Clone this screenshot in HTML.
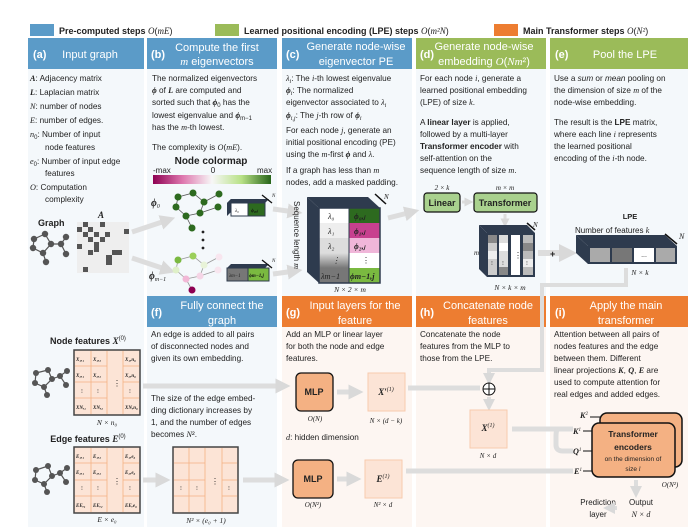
<!DOCTYPE html>
<html><head><meta charset="utf-8"><style>
html,body{margin:0;padding:0;background:#fff;}
svg{display:block;}
text{font-family:"Liberation Sans",sans-serif;font-size:8.2px;fill:#222;}
.m{font-family:"Liberation Serif",serif;font-style:italic;}
.b{font-weight:bold;}
.h{fill:#fff;font-size:11px;}
.hb{fill:#fff;font-size:11px;font-weight:bold;}
.s{font-size:5px;font-family:"Liberation Serif",serif;font-weight:bold;font-style:italic;}
</style></head><body>
<svg width="697" height="527" viewBox="0 0 697 527" xmlns="http://www.w3.org/2000/svg">
<defs>
<marker id="ga" markerWidth="3" markerHeight="3" refX="1.5" refY="1.5" orient="auto" markerUnits="strokeWidth"><path d="M0,0 L3,1.5 L0,3 z" fill="#d9d9d9"/></marker>
<linearGradient id="cm" x1="0" x2="1"><stop offset="0" stop-color="#8e0152"/><stop offset="0.25" stop-color="#de77ae"/><stop offset="0.5" stop-color="#f7f7f7"/><stop offset="0.75" stop-color="#b8e186"/><stop offset="1" stop-color="#276419"/></linearGradient>
<linearGradient id="gl" x1="0" y1="0" x2="0" y2="1"><stop offset="0" stop-color="#ddd"/><stop offset="1" stop-color="#777"/></linearGradient>
</defs>
<!-- legend -->
<rect x="30" y="24" width="24" height="12" fill="#5b9bc8"/>
<text x="59" y="34" class="b" style="font-size:9px">Pre-computed steps <tspan class="m" style="font-weight:normal">O</tspan><tspan style="font-weight:normal">(</tspan><tspan class="m" style="font-weight:normal">mE</tspan><tspan style="font-weight:normal">)</tspan></text>
<rect x="215" y="24" width="24" height="12" fill="#9bbb59"/>
<text x="244" y="34" class="b" style="font-size:9px">Learned positional encoding (LPE) steps <tspan class="m" style="font-weight:normal">O</tspan><tspan style="font-weight:normal">(</tspan><tspan class="m" style="font-weight:normal">m²N</tspan><tspan style="font-weight:normal">)</tspan></text>
<rect x="494" y="24" width="24" height="12" fill="#ed7d31"/>
<text x="523" y="34" class="b" style="font-size:9px">Main Transformer steps <tspan class="m" style="font-weight:normal">O</tspan><tspan style="font-weight:normal">(</tspan><tspan class="m" style="font-weight:normal">N²</tspan><tspan style="font-weight:normal">)</tspan></text>

<!-- backgrounds -->
<rect x="28" y="69" width="116" height="458" fill="#f4f8fb"/>
<rect x="147" y="69" width="130" height="227" fill="#f4f8fb"/>
<rect x="282" y="69" width="130" height="227" fill="#f4f8fb"/>
<rect x="416" y="69" width="130" height="227" fill="#f4f8fb"/>
<rect x="550" y="69" width="138" height="227" fill="#f4f8fb"/>
<rect x="147" y="327" width="130" height="200" fill="#f4f8fb"/>
<rect x="282" y="327" width="130" height="200" fill="#fdf6f2"/>
<rect x="416" y="327" width="130" height="200" fill="#fdf6f2"/>
<rect x="550" y="327" width="138" height="200" fill="#fdf6f2"/>

<!-- headers row 1 -->
<rect x="28" y="38" width="116" height="31" fill="#5b9bc8"/>
<text x="33" y="58" class="hb">(a)</text><text x="90" y="58" class="h" text-anchor="middle">Input graph</text>
<rect x="147" y="38" width="130" height="31" fill="#5b9bc8"/>
<text x="151" y="58" class="hb">(b)</text><text x="217" y="51" class="h" text-anchor="middle">Compute the first</text><text x="217" y="65" class="h" text-anchor="middle"><tspan class="m">m</tspan> eigenvectors</text>
<rect x="282" y="38" width="130" height="31" fill="#5b9bc8"/>
<text x="286" y="58" class="hb">(c)</text><text x="356" y="50" class="h" text-anchor="middle">Generate node-wise</text><text x="356" y="65" class="h" text-anchor="middle">eigenvector PE</text>
<rect x="416" y="38" width="130" height="31" fill="#9bbb59"/>
<text x="420" y="58" class="hb">(d)</text><text x="484" y="50" class="h" text-anchor="middle">Generate node-wise</text><text x="484" y="65" class="h" text-anchor="middle">embedding <tspan class="m">O</tspan>(<tspan class="m">Nm</tspan>²)</text>
<rect x="550" y="38" width="138" height="31" fill="#9bbb59"/>
<text x="555" y="58" class="hb">(e)</text><text x="625" y="58" class="h" text-anchor="middle">Pool the LPE</text>

<!-- headers row 2 -->
<rect x="147" y="296" width="130" height="31" fill="#5b9bc8"/>
<text x="151" y="316" class="hb">(f)</text><text x="222" y="309" class="h" text-anchor="middle">Fully connect the</text><text x="222" y="324" class="h" text-anchor="middle">graph</text>
<rect x="282" y="296" width="130" height="31" fill="#ed7d31"/>
<text x="286" y="316" class="hb">(g)</text><text x="355" y="309" class="h" text-anchor="middle">Input layers for the</text><text x="355" y="324" class="h" text-anchor="middle">feature</text>
<rect x="416" y="296" width="130" height="31" fill="#ed7d31"/>
<text x="420" y="316" class="hb">(h)</text><text x="488" y="309" class="h" text-anchor="middle">Concatenate node</text><text x="488" y="324" class="h" text-anchor="middle">features</text>
<rect x="550" y="296" width="138" height="31" fill="#ed7d31"/>
<text x="555" y="316" class="hb">(i)</text><text x="626" y="309" class="h" text-anchor="middle">Apply the main</text><text x="626" y="324" class="h" text-anchor="middle">transformer</text>

<!-- (a) text -->
<text x="30" y="81"><tspan class="m b">A</tspan>: Adjacency matrix</text>
<text x="30" y="95"><tspan class="m b">L</tspan>: Laplacian matrix</text>
<text x="30" y="109"><tspan class="m">N</tspan>: number of nodes</text>
<text x="30" y="123"><tspan class="m">E</tspan>: number of edges.</text>
<text x="30" y="137"><tspan class="m">n</tspan><tspan style="font-size:6px" dy="2">0</tspan><tspan dy="-2">: Number of input</tspan></text>
<text x="45" y="150">node features</text>
<text x="30" y="164"><tspan class="m">e</tspan><tspan style="font-size:6px" dy="2">0</tspan><tspan dy="-2">: Number of input edge</tspan></text>
<text x="45" y="176">features</text>
<text x="30" y="190"><tspan class="m">O</tspan>: Computation</text>
<text x="45" y="202">complexity</text>
<text x="38" y="226" class="b" style="font-size:9px">Graph</text>
<text x="98" y="218" class="m b" style="font-size:9px">A</text>
<rect x="77" y="222" width="52" height="51" fill="#eee"/>
<g fill="#555">
<rect x="83" y="222" width="5" height="5"/><rect x="100" y="222" width="5" height="5"/>
<rect x="77" y="227" width="5" height="5"/><rect x="88" y="227" width="5" height="5"/>
<rect x="83" y="232" width="5" height="5"/><rect x="94" y="232" width="5" height="5"/><rect x="105" y="232" width="5" height="5"/><rect x="124" y="229" width="5" height="5"/>
<rect x="88" y="237" width="5" height="5"/><rect x="100" y="237" width="5" height="5"/>
<rect x="94" y="242" width="5" height="5"/>
<rect x="77" y="244" width="5" height="5"/><rect x="94" y="247" width="5" height="5"/>
<rect x="88" y="250" width="5" height="5"/><rect x="112" y="250" width="10" height="5"/>
<rect x="106" y="255" width="6" height="10"/><rect x="83" y="267" width="5" height="5"/>
</g>
<g stroke="#555" stroke-width="1.2" fill="none"><path d="M34,239 L45,234 L51,244 L43,253 L33,248 Z M51,244 L61,244 L66,237 M61,244 L66,254 M43,253 L46,262"/></g>
<g fill="#555"><circle cx="34" cy="239" r="3.2"/><circle cx="45" cy="234" r="3.2"/><circle cx="51" cy="244" r="3.2"/><circle cx="43" cy="253" r="3.2"/><circle cx="33" cy="248" r="3.2"/><circle cx="61" cy="244" r="3.2"/><circle cx="66" cy="237" r="3.2"/><circle cx="66" cy="254" r="3.2"/><circle cx="46" cy="262" r="3.2"/></g>
<g stroke="#ddd" stroke-width="5" marker-end="url(#ga)"><line x1="132" y1="232" x2="168" y2="220"/><line x1="132" y1="258" x2="168" y2="270"/></g>

<!-- (b) -->
<text x="152" y="81">The normalized eigenvectors</text>
<text x="152" y="93"><tspan class="m b">ϕ</tspan> of <tspan class="m b">L</tspan> are computed and</text>
<text x="152" y="105">sorted such that <tspan class="m b">ϕ</tspan><tspan style="font-size:6px" dy="2">0</tspan><tspan dy="-2"> has the</tspan></text>
<text x="152" y="118">lowest eigenvalue and <tspan class="m b">ϕ</tspan><tspan style="font-size:6px" dy="2">m−1</tspan></text>
<text x="152" y="130">has the <tspan class="m">m</tspan>-th lowest.</text>
<text x="152" y="150">The complexity is <tspan class="m">O</tspan>(<tspan class="m">mE</tspan>).</text>
<text x="211" y="164" class="b" text-anchor="middle" style="font-size:10px">Node colormap</text>
<text x="153" y="173" style="font-size:8px">-max</text><text x="213" y="173" style="font-size:8px" text-anchor="middle">0</text><text x="257" y="173" style="font-size:8px">max</text>
<rect x="153" y="175" width="118" height="9" fill="url(#cm)"/>
<text x="151" y="206" class="m b" style="font-size:10px">ϕ<tspan style="font-size:6px;font-weight:normal" dy="2">0</tspan></text>
<g stroke="#555" stroke-width="0.8" fill="none"><path d="M178,197 L193,193 L204,202 L200,213 L186,216 L176,207 Z M204,202 L219,194 M200,213 L218,207 M186,216 L192,228"/></g>
<g fill="#2d6a1f"><circle cx="178" cy="197" r="3.5"/><circle cx="193" cy="193" r="3.5"/><circle cx="204" cy="202" r="3.5"/><circle cx="200" cy="213" r="3.5"/><circle cx="186" cy="216" r="3.5"/><circle cx="176" cy="207" r="3.5"/><circle cx="219" cy="194" r="3.5"/><circle cx="218" cy="207" r="3.5"/><circle cx="192" cy="228" r="3.5"/></g>
<g fill="#222"><circle cx="203" cy="232" r="1.4"/><circle cx="203" cy="240" r="1.4"/><circle cx="203" cy="248" r="1.4"/></g>
<text x="149" y="279" class="m b" style="font-size:10px">ϕ<tspan style="font-size:6px;font-weight:normal" dy="2">m−1</tspan></text>
<g stroke="#999" stroke-width="0.8" fill="none"><path d="M178,260 L193,256 L204,265 L200,276 L186,279 L176,270 Z M204,265 L219,257 M200,276 L218,270 M186,279 L192,290"/></g>
<g><circle cx="178" cy="260" r="3.5" fill="#7ab940"/><circle cx="193" cy="256" r="3.5" fill="#9bcf5a"/><circle cx="204" cy="265" r="3.5" fill="#e8f3d8"/><circle cx="200" cy="276" r="3.5" fill="#f5d5e6"/><circle cx="186" cy="279" r="3.5" fill="#f2b8d6"/><circle cx="176" cy="270" r="3.5" fill="#dff0c8"/><circle cx="219" cy="257" r="3.5" fill="#f8e6ef"/><circle cx="218" cy="270" r="3.5" fill="#f8e6ef"/><circle cx="192" cy="290" r="3.5" fill="#8e0152"/></g>
<!-- small boxes -->
<g>
<polygon points="227,203 231,199 269,199 265,203" fill="#2e3b4e"/><polygon points="227,203 231,199 231,212 227,216" fill="#2e3b4e"/>
<rect x="231" y="203" width="17" height="13" fill="#fff" stroke="#2e3b4e"/><rect x="248" y="203" width="17" height="13" fill="#2d6a1f" stroke="#2e3b4e"/>
<text x="235" y="212" class="m" style="font-size:5px">λ₀</text><text x="251" y="212" class="s" style="fill:#111">ϕ₀,ⱼ</text>
<polygon points="227,268 231,264 269,264 265,268" fill="#2e3b4e"/>
<rect x="227" y="268" width="21" height="13" fill="#777" stroke="#2e3b4e"/><rect x="248" y="268" width="21" height="13" fill="#7ab940" stroke="#2e3b4e"/>
<text x="229" y="277" class="m" style="font-size:5px">λm−1</text><text x="249" y="277" class="s" style="fill:#111">ϕm−1,j</text>
<line x1="262" y1="195" x2="272" y2="203" stroke="#111" stroke-width="1.3"/><line x1="262" y1="260" x2="272" y2="268" stroke="#111" stroke-width="1.3"/>
<text x="272" y="197" class="m" style="font-size:5px">N</text><text x="272" y="262" class="m" style="font-size:5px">N</text>
</g>
<g stroke="#ddd" stroke-width="5" marker-end="url(#ga)"><line x1="273" y1="209" x2="295" y2="212"/><line x1="273" y1="274" x2="295" y2="271"/></g>

<!-- (c) -->
<text x="286" y="81"><tspan class="m">λ</tspan><tspan style="font-size:6px" dy="2" class="m">i</tspan><tspan dy="-2">: The </tspan><tspan class="m">i</tspan>-th lowest eigenvalue</text>
<text x="286" y="93"><tspan class="m b">ϕ</tspan><tspan style="font-size:6px" dy="2" class="m">i</tspan><tspan dy="-2">: The normalized</tspan></text>
<text x="286" y="105">eigenvector associated to <tspan class="m">λ</tspan><tspan style="font-size:6px" dy="2" class="m">i</tspan></text>
<text x="286" y="118"><tspan class="m b">ϕ</tspan><tspan style="font-size:6px" dy="2" class="m">i,j</tspan><tspan dy="-2">: The </tspan><tspan class="m">j</tspan>-th row of <tspan class="m b">ϕ</tspan><tspan style="font-size:6px" dy="2" class="m">i</tspan></text>
<text x="286" y="133">For each node <tspan class="m">j</tspan>, generate an</text>
<text x="286" y="145">initial positional encoding (PE)</text>
<text x="286" y="157">using the <tspan class="m">m</tspan>-first <tspan class="m b">ϕ</tspan>  and <tspan class="m">λ</tspan>.</text>
<text x="286" y="173">If a graph has less than <tspan class="m">m</tspan></text>
<text x="286" y="185">nodes, add a masked padding.</text>
<text transform="translate(294,201) rotate(90)" style="font-size:8px">Sequence length <tspan class="m">m</tspan></text>
<polygon points="307,197 368,197 380,208 319,208" fill="#2e3b4e"/>
<polygon points="307,197 319,208 319,283 307,272" fill="#2e3b4e"/>
<rect x="319" y="208" width="30" height="15" fill="#fff"/><rect x="319" y="223" width="30" height="15" fill="#eee"/><rect x="319" y="238" width="30" height="15" fill="#ddd"/><rect x="319" y="253" width="30" height="15" fill="url(#gl)"/><rect x="319" y="268" width="30" height="15" fill="#777"/>
<rect x="349" y="208" width="31" height="15" fill="#2d6a1f"/><rect x="349" y="223" width="31" height="15" fill="#c7408f"/><rect x="349" y="238" width="31" height="15" fill="#f0b6d9"/><rect x="349" y="253" width="31" height="15" fill="#fff"/><rect x="349" y="268" width="31" height="15" fill="#7ab940"/>
<rect x="319" y="208" width="61" height="75" fill="none" stroke="#2e3b4e" stroke-width="1.5"/><line x1="349" y1="208" x2="349" y2="283" stroke="#2e3b4e"/>
<g class="m" style="font-size:8px"><text x="328" y="219" class="m">λ₀</text><text x="328" y="234" class="m">λ₁</text><text x="328" y="249" class="m">λ₂</text><text x="332" y="263">⋮</text><text x="321" y="279" class="m">λm−1</text></g>
<g style="font-size:7.5px"><text x="354" y="219" class="m b">ϕ₀,ⱼ</text><text x="354" y="234" class="m b">ϕ₁,ⱼ</text><text x="354" y="249" class="m b">ϕ₂,ⱼ</text><text x="362" y="263">⋮</text><text x="350" y="279" class="m b">ϕm−1,j</text></g>
<line x1="375" y1="194" x2="386" y2="204" stroke="#111" stroke-width="1.5"/><text x="384" y="199" class="m" style="font-size:7px">N</text>
<text x="350" y="292" class="m" text-anchor="middle" style="font-size:7.5px">N × 2 × m</text>
<line x1="388" y1="218" x2="412" y2="212" stroke="#ddd" stroke-width="5" marker-end="url(#ga)"/>

<!-- (d) -->
<text x="420" y="81">For each node <tspan class="m">i</tspan>, generate a</text>
<text x="420" y="93">learned positional embedding</text>
<text x="420" y="105">(LPE) of size <tspan class="m">k</tspan>.</text>
<text x="420" y="125">A <tspan class="b">linear layer</tspan> is applied,</text>
<text x="420" y="137">followed by a multi-layer</text>
<text x="420" y="149"><tspan class="b">Transformer encoder</tspan>  with</text>
<text x="420" y="161">self-attention on the</text>
<text x="420" y="173">sequence length of size <tspan class="m">m</tspan>.</text>
<text x="442" y="190" class="m" text-anchor="middle" style="font-size:7px">2 × k</text>
<text x="505" y="190" class="m" text-anchor="middle" style="font-size:7px">m × m</text>
<rect x="424" y="193" width="36" height="19" rx="3" fill="#a9d18e" stroke="#111" stroke-width="1.2"/>
<text x="442" y="206" class="b" text-anchor="middle" style="font-size:9px">Linear</text>
<rect x="474" y="193" width="63" height="19" rx="3" fill="#a9d18e" stroke="#111" stroke-width="1.2"/>
<text x="505" y="206" class="b" text-anchor="middle" style="font-size:9px">Transformer</text>
<line x1="462" y1="202" x2="469" y2="202" stroke="#ddd" stroke-width="3" marker-end="url(#ga)"/>
<line x1="505" y1="214" x2="505" y2="223" stroke="#ddd" stroke-width="3" marker-end="url(#ga)"/>
<polygon points="479,225 527,225 535,233 487,233" fill="#2e3b4e"/>
<polygon points="479,225 487,233 487,277 479,269" fill="#2e3b4e"/>
<rect x="487" y="233" width="48" height="44" fill="#2e3b4e"/>
<g><rect x="488" y="235" width="9" height="40" fill="#ccc"/><rect x="488" y="235" width="9" height="8" fill="#888"/><rect x="488" y="251" width="9" height="8" fill="#eee"/>
<rect x="499" y="235" width="9" height="40" fill="#ddd"/><rect x="499" y="243" width="9" height="8" fill="#fff"/><rect x="499" y="267" width="9" height="8" fill="#888"/>
<rect x="511" y="235" width="9" height="40" fill="#fff"/>
<rect x="523" y="235" width="10" height="40" fill="#bbb"/><rect x="523" y="243" width="10" height="8" fill="#888"/><rect x="523" y="259" width="10" height="8" fill="#eee"/></g>
<text x="491" y="265" style="font-size:6px">⁝</text><text x="502" y="265" style="font-size:6px">⁝</text><text x="514" y="258" style="font-size:8px">⋮</text><text x="526" y="265" style="font-size:6px">⁝</text>
<text x="474" y="255" class="m" style="font-size:7px">m</text>
<line x1="527" y1="223" x2="535" y2="230" stroke="#111" stroke-width="1.5"/><text x="533" y="227" class="m" style="font-size:7px">N</text>
<text x="510" y="290" class="m" text-anchor="middle" style="font-size:7.5px">N × k × m</text>
<line x1="538" y1="253" x2="568" y2="253" stroke="#ddd" stroke-width="6" marker-end="url(#ga)"/>
<text x="550" y="257" class="b" style="font-size:9px">+</text>

<!-- (e) -->
<text x="554" y="81">Use a <tspan font-style="italic">sum</tspan> or <tspan font-style="italic">mean</tspan> pooling on</text>
<text x="554" y="93">the dimension of size <tspan class="m">m</tspan> of the</text>
<text x="554" y="105">node-wise embedding.</text>
<text x="554" y="125">The result is the <tspan class="b">LPE</tspan> matrix,</text>
<text x="554" y="137">where each line <tspan class="m">i</tspan> represents</text>
<text x="554" y="149">the learned positional</text>
<text x="554" y="161">encoding of the <tspan class="m">i</tspan>-th node.</text>
<text x="630" y="219" class="b" text-anchor="middle" style="font-size:7.5px">LPE</text>
<text x="575" y="233" style="font-size:8px">Number of features <tspan class="m">k</tspan></text>
<polygon points="576,235 665,235 677,246 588,246" fill="#2e3b4e"/>
<polygon points="576,235 588,246 588,264 576,253" fill="#2e3b4e"/>
<rect x="588" y="246" width="89" height="18" fill="#2e3b4e"/>
<rect x="590" y="248" width="20" height="14" fill="#aaa"/><rect x="612" y="248" width="20" height="14" fill="#777"/><rect x="634" y="248" width="20" height="14" fill="#fff"/><rect x="656" y="248" width="19" height="14" fill="#aaa"/>
<text x="644" y="257" text-anchor="middle" style="font-size:7px">...</text>
<line x1="665" y1="234" x2="677" y2="244" stroke="#111" stroke-width="1.5"/><text x="679" y="239" class="m" style="font-size:8px">N</text>
<text x="640" y="275" class="m" text-anchor="middle" style="font-size:7.5px">N × k</text>
<!-- LPE to concat connector -->
<polyline points="626,268 626,285 542,285 542,370 489,370 489,379" fill="none" stroke="#ddd" stroke-width="4" marker-end="url(#ga)"/>

<!-- (a) lower -->
<text x="88" y="344" class="b" text-anchor="middle" style="font-size:9px">Node features <tspan class="m">X</tspan><tspan style="font-size:6px;font-weight:normal" dy="-4">(0)</tspan></text>
<text x="88" y="442" class="b" text-anchor="middle" style="font-size:9px">Edge features <tspan class="m">E</tspan><tspan style="font-size:6px;font-weight:normal" dy="-4">(0)</tspan></text>
<g>
<rect x="74" y="350" width="66" height="65" fill="#fce4d6" stroke="#444" stroke-width="1.5"/>
<g stroke="#f4b183" stroke-width="0.8"><line x1="91" y1="351" x2="91" y2="414"/><line x1="107" y1="351" x2="107" y2="414"/><line x1="123" y1="351" x2="123" y2="414"/><line x1="75" y1="366" x2="107" y2="366"/><line x1="75" y1="382" x2="107" y2="382"/><line x1="75" y1="398" x2="107" y2="398"/><line x1="123" y1="366" x2="139" y2="366"/><line x1="123" y1="382" x2="139" y2="382"/><line x1="123" y1="398" x2="139" y2="398"/></g>
<text x="76" y="361" class="s">X₁,₁</text><text x="93" y="361" class="s">X₁,₂</text><text x="125" y="361" class="s">X₁,n₀</text>
<text x="76" y="377" class="s">X₂,₁</text><text x="93" y="377" class="s">X₂,₂</text><text x="125" y="377" class="s">X₂,n₀</text>
<text x="81" y="393" style="font-size:6px">⁝</text><text x="97" y="393" style="font-size:6px">⁝</text><text x="129" y="393" style="font-size:6px">⁝</text><text x="113" y="386" style="font-size:8px">⋮</text>
<text x="76" y="409" class="s">XN,₁</text><text x="93" y="409" class="s">XN,₂</text><text x="125" y="409" class="s">XN,n₀</text>
</g>
<text x="107" y="425" class="m" text-anchor="middle" style="font-size:7.5px">N × n₀</text>
<g>
<rect x="74" y="447" width="66" height="66" fill="#fce4d6" stroke="#444" stroke-width="1.5"/>
<g stroke="#f4b183" stroke-width="0.8"><line x1="91" y1="448" x2="91" y2="512"/><line x1="107" y1="448" x2="107" y2="512"/><line x1="123" y1="448" x2="123" y2="512"/><line x1="75" y1="463" x2="107" y2="463"/><line x1="75" y1="480" x2="107" y2="480"/><line x1="75" y1="496" x2="107" y2="496"/><line x1="123" y1="463" x2="139" y2="463"/><line x1="123" y1="480" x2="139" y2="480"/><line x1="123" y1="496" x2="139" y2="496"/></g>
<text x="76" y="458" class="s">E₁,₁</text><text x="93" y="458" class="s">E₁,₂</text><text x="125" y="458" class="s">E₁,e₀</text>
<text x="76" y="474" class="s">E₂,₁</text><text x="93" y="474" class="s">E₂,₂</text><text x="125" y="474" class="s">E₂,e₀</text>
<text x="81" y="490" style="font-size:6px">⁝</text><text x="97" y="490" style="font-size:6px">⁝</text><text x="129" y="490" style="font-size:6px">⁝</text><text x="113" y="484" style="font-size:8px">⋮</text>
<text x="76" y="507" class="s">EE,₁</text><text x="93" y="507" class="s">EE,₂</text><text x="125" y="507" class="s">EE,e₀</text>
</g>
<text x="107" y="522" class="m" text-anchor="middle" style="font-size:7.5px">E × e₀</text>
<g stroke="#555" stroke-width="1.2" fill="none"><path d="M36,373 L48,370 L52,379 L44,387 L35,383 Z M52,379 L60,376 L67,371 M60,376 L66,385 M44,387 L47,395"/><path d="M36,470 L48,466 L52,476 L44,484 L35,480 Z M52,476 L60,473 L67,468 M60,473 L66,482 M44,484 L47,492"/></g>
<g fill="#555"><circle cx="36" cy="373" r="3"/><circle cx="48" cy="370" r="3"/><circle cx="52" cy="379" r="3"/><circle cx="44" cy="387" r="3"/><circle cx="35" cy="383" r="3"/><circle cx="60" cy="376" r="3"/><circle cx="67" cy="371" r="3"/><circle cx="66" cy="385" r="3"/><circle cx="47" cy="395" r="3"/>
<circle cx="36" cy="470" r="3"/><circle cx="48" cy="466" r="3"/><circle cx="52" cy="476" r="3"/><circle cx="44" cy="484" r="3"/><circle cx="35" cy="480" r="3"/><circle cx="60" cy="473" r="3"/><circle cx="67" cy="468" r="3"/><circle cx="66" cy="482" r="3"/><circle cx="47" cy="492" r="3"/></g>

<!-- (f) -->
<text x="151" y="337">An edge is added to all pairs</text>
<text x="151" y="349">of disconnected nodes and</text>
<text x="151" y="361">given its own embedding.</text>
<text x="151" y="401">The size of the edge embed-</text>
<text x="151" y="413">ding dictionary increases by</text>
<text x="151" y="425">1, and the number of edges</text>
<text x="151" y="437">becomes <tspan class="m">N</tspan>².</text>
<rect x="173" y="447" width="65" height="66" fill="#fce4d6" stroke="#444" stroke-width="1.5"/>
<g stroke="#f4b183" stroke-width="0.8"><line x1="189" y1="448" x2="189" y2="512"/><line x1="205" y1="448" x2="205" y2="512"/><line x1="222" y1="448" x2="222" y2="512"/><line x1="174" y1="463" x2="205" y2="463"/><line x1="174" y1="480" x2="205" y2="480"/><line x1="174" y1="496" x2="205" y2="496"/><line x1="222" y1="463" x2="237" y2="463"/><line x1="222" y1="480" x2="237" y2="480"/><line x1="222" y1="496" x2="237" y2="496"/></g>
<text x="180" y="490" style="font-size:6px">⁝</text><text x="196" y="490" style="font-size:6px">⁝</text><text x="228" y="490" style="font-size:6px">⁝</text><text x="211" y="484" style="font-size:8px">⋮</text>
<text x="206" y="523" class="m" text-anchor="middle" style="font-size:7.5px">N² × (e₀ + 1)</text>
<g stroke="#ddd" stroke-width="5" marker-end="url(#ga)"><line x1="143" y1="386" x2="283" y2="386"/><line x1="143" y1="480" x2="163" y2="480"/><line x1="243" y1="480" x2="282" y2="480"/></g>

<!-- (g) -->
<text x="286" y="337">Add an MLP or linear layer</text>
<text x="286" y="349">for both the node and edge</text>
<text x="286" y="361">features.</text>
<rect x="296" y="373" width="37" height="38" rx="5" fill="#f4b183" stroke="#111" stroke-width="1.3"/>
<text x="314" y="395" class="b" text-anchor="middle" style="font-size:9px">MLP</text>
<text x="315" y="421" class="m" text-anchor="middle" style="font-size:7px">O(N)</text>
<text x="286" y="440"><tspan class="m">d</tspan>: hidden dimension</text>
<rect x="293" y="460" width="40" height="38" rx="5" fill="#f4b183" stroke="#111" stroke-width="1.3"/>
<text x="313" y="482" class="b" text-anchor="middle" style="font-size:9px">MLP</text>
<text x="313" y="507" class="m" text-anchor="middle" style="font-size:7px">O(N²)</text>
<rect x="368" y="373" width="37" height="38" fill="#fce4d6" stroke="#f8cbad"/>
<text x="386" y="395" class="m b" text-anchor="middle" style="font-size:9px">X′<tspan style="font-size:6px;font-weight:normal" dy="-4">(1)</tspan></text>
<text x="386" y="423" class="m" text-anchor="middle" style="font-size:7px">N × (d − k)</text>
<rect x="365" y="460" width="37" height="38" fill="#fce4d6" stroke="#f8cbad"/>
<text x="383" y="482" class="m b" text-anchor="middle" style="font-size:9px">E<tspan style="font-size:6px;font-weight:normal" dy="-4">(1)</tspan></text>
<text x="383" y="507" class="m" text-anchor="middle" style="font-size:7px">N² × d</text>
<g stroke="#ddd" stroke-width="5" marker-end="url(#ga)"><line x1="337" y1="392" x2="356" y2="392"/><line x1="337" y1="479" x2="354" y2="479"/></g>
<g stroke="#ddd" stroke-width="5"><line x1="408" y1="388" x2="480" y2="388"/><line x1="406" y1="471" x2="573" y2="471"/></g>

<!-- (h) -->
<text x="420" y="337">Concatenate the node</text>
<text x="420" y="349">features from the MLP to</text>
<text x="420" y="361">those from the LPE.</text>
<circle cx="489" cy="389" r="6" fill="#fff" stroke="#111" stroke-width="1"/><line x1="483" y1="389" x2="495" y2="389" stroke="#111"/><line x1="489" y1="383" x2="489" y2="395" stroke="#111"/>
<line x1="489" y1="397" x2="489" y2="405" stroke="#ddd" stroke-width="4" marker-end="url(#ga)"/>
<rect x="470" y="410" width="37" height="38" fill="#fce4d6" stroke="#f8cbad"/>
<text x="488" y="431" class="m b" text-anchor="middle" style="font-size:9px">X<tspan style="font-size:6px;font-weight:normal" dy="-4">(1)</tspan></text>
<text x="488" y="458" class="m" text-anchor="middle" style="font-size:7px">N × d</text>
<path d="M512,429 L561,429 L573,429 M558,429 Q556,429 556,437 L556,445 Q556,451 563,451 L573,451" fill="none" stroke="#ddd" stroke-width="5"/>

<!-- (i) -->
<text x="554" y="337">Attention between all pairs of</text>
<text x="554" y="349">nodes features and the edge</text>
<text x="554" y="361">between them. Different</text>
<text x="554" y="373">linear projections <tspan class="m b">K</tspan>, <tspan class="m b">Q</tspan>, <tspan class="m b">E</tspan> are</text>
<text x="554" y="385">used to compute attention for</text>
<text x="554" y="397">real edges and added edges.</text>
<rect x="600" y="413" width="82" height="54" rx="7" fill="#f4b183" stroke="#111" stroke-width="1.5"/>
<rect x="592" y="423" width="83" height="54" rx="7" fill="#f4b183" stroke="#111" stroke-width="1.5"/>
<text x="633" y="437" class="b" text-anchor="middle" style="font-size:8.5px">Transformer</text>
<text x="633" y="450" class="b" text-anchor="middle" style="font-size:8.5px">encoders</text>
<text x="633" y="461" text-anchor="middle" style="font-size:6.5px">on the dimension of</text>
<text x="633" y="471" text-anchor="middle" style="font-size:6.5px">size <tspan class="m">l</tspan></text>
<g stroke="#111" stroke-width="1"><line x1="590" y1="417" x2="600" y2="417"/><line x1="583" y1="431" x2="592" y2="431"/><line x1="583" y1="451" x2="592" y2="451"/><line x1="583" y1="471" x2="592" y2="471"/></g>
<g class="m b" style="font-size:8px"><text x="580" y="418" class="m b">K<tspan style="font-size:5px;font-weight:normal" dy="-3">2</tspan></text><text x="573" y="434" class="m b">K<tspan style="font-size:5px;font-weight:normal" dy="-3">1</tspan></text><text x="573" y="454" class="m b">Q<tspan style="font-size:5px;font-weight:normal" dy="-3">1</tspan></text><text x="574" y="474" class="m b">E<tspan style="font-size:5px;font-weight:normal" dy="-3">1</tspan></text></g>
<text x="670" y="487" class="m" text-anchor="middle" style="font-size:7px">O(N²)</text>
<line x1="636" y1="480" x2="636" y2="492" stroke="#ddd" stroke-width="4" marker-end="url(#ga)"/>
<text x="641" y="505" text-anchor="middle" style="font-size:8px">Output</text>
<text x="641" y="517" class="m" text-anchor="middle" style="font-size:8px">N × d</text>
<text x="598" y="505" text-anchor="middle" style="font-size:8px">Prediction</text>
<text x="598" y="517" text-anchor="middle" style="font-size:8px">layer</text>
<line x1="617" y1="508" x2="609" y2="508" stroke="#ddd" stroke-width="4" marker-end="url(#ga)"/>
</svg>
</body></html>
